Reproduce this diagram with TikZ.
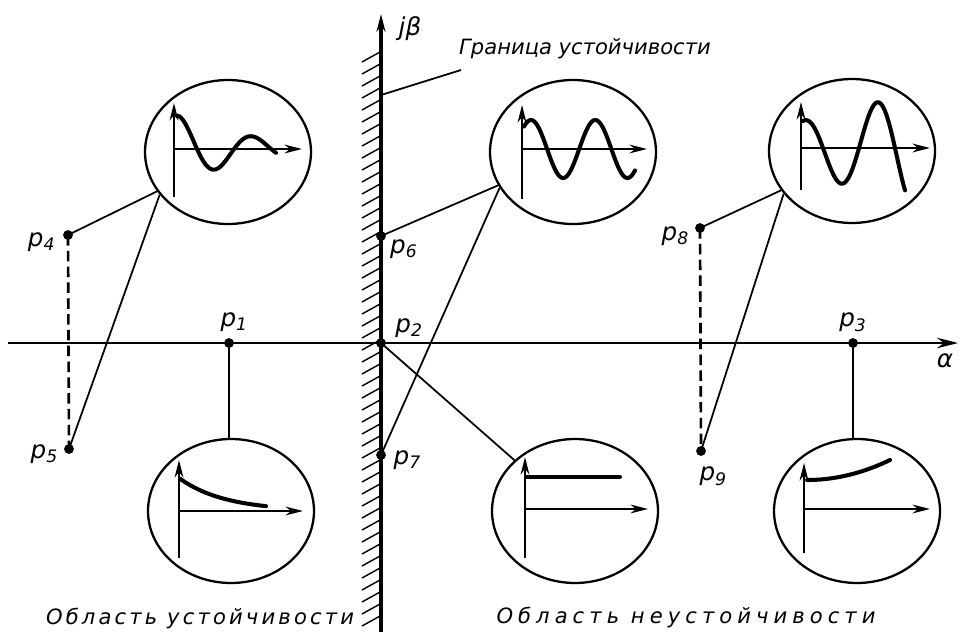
\documentclass[tikz,border=0pt]{standalone}
\usepackage{fontspec}
\setmainfont{DejaVu Sans}
\usetikzlibrary{shapes.geometric,arrows.meta,positioning}

\begin{document}
\begin{tikzpicture}[x=0.02cm, y=-0.02cm,
    font=\itshape\fontsize{12}{14}\selectfont,
    osc/.style={draw, ellipse, line width=1.3pt, minimum width=3.32cm, minimum height=2.88cm, inner sep=0pt},
    link/.style={line width=1pt},
    pair/.style={line width=1.5pt, dash pattern=on 6pt off 3pt},
    curve/.style={line width=2.3pt, line cap=round, samples=120},
    miniax/.style={line width=1.2pt, -{Stealth[length=10pt, width=5pt]}},
    hatch/.style={line width=0.8pt},
    plabel/.style={font=\itshape\fontsize{14}{16}\selectfont, inner sep=1pt}]

    \useasboundingbox (0,0) rectangle (960,632);

    % パラメータの定義
    \pgfmathsetmacro{\xaxis}{343}
    \pgfmathsetmacro{\yaxis}{381}

    % 点の定義
    \coordinate (xl) at (8,\xaxis);
    \coordinate (xr) at (958,\xaxis);
    \coordinate (yb) at (\yaxis,632);
    \coordinate (yt) at (\yaxis,14);

    \coordinate (p1) at (229,\xaxis);
    \coordinate (p2) at (\yaxis,\xaxis);
    \coordinate (p3) at (853,\xaxis);
    \coordinate (p4) at (68,235);
    \coordinate (p5) at (69,449);
    \coordinate (p6) at (\yaxis,236);
    \coordinate (p7) at (\yaxis,455);
    \coordinate (p8) at (700,228);
    \coordinate (p9) at (701,451);

    \coordinate (lead) at (\yaxis,95);
    \coordinate (leadend) at (461,70);

    % 円の定義
    \node[osc] (C4) at (228,152) {};
    \node[osc] (C6) at (573,152) {};
    \node[osc] (C8) at (852,151) {};
    \node[osc] (C1) at (231,511) {};
    \node[osc] (C2) at (575,511) {};
    \node[osc] (C3) at (857,511) {};

    % 斜線の描画
    \foreach \y in {52,64,...,622}
        \draw [hatch] (\yaxis-1,\y) -- ++(-18,10);

    % 軸の描画
    \draw [line width=0.9pt, -{Stealth[length=12pt, width=6pt]}] (xl) -- (xr);
    \draw [line width=2.6pt, -{Stealth[length=10pt, width=5pt]}] (yb) -- (yt);
    \node[plabel] (jb) at (410,29) {jβ};
    \node[plabel] (al) at (945,361) {α};

    % 境界の説明
    \node[anchor=west] (gran) at (453,49) {Граница устойчивости};
    \draw [link] (lead) -- (leadend);

    % 応答の描画
    \begin{scope}[shift={(174,149)}]
        \draw [miniax] (0,48) -- (0,-46);
        \draw [miniax] (0,0) -- (128,0);
        \draw [curve, domain=3:102] plot ({\x}, {-35*exp(-0.013*\x)*cos(4.86*(\x-4.5))});
    \end{scope}
    \begin{scope}[shift={(522,149)}]
        \draw [miniax] (0,50) -- (0,-44);
        \draw [miniax] (0,0) -- (125,0);
        \draw [curve, domain=2:113] plot ({\x}, {-29*cos(5.6*(\x-9))});
    \end{scope}
    \begin{scope}[shift={(801,148)}]
        \draw [miniax] (0,42) -- (0,-46);
        \draw [miniax] (0,0) -- (129,0);
        \draw [curve, domain=2:104] plot ({\x}, {-27*exp(0.0069*\x)*cos(5*(\x-4))});
    \end{scope}
    \begin{scope}[shift={(179,511)}]
        \draw [miniax] (0,47) -- (0,-51);
        \draw [miniax] (0,0) -- (124,0);
        \draw [curve, domain=1:87] plot ({\x}, {-33*exp(-0.022*\x)});
    \end{scope}
    \begin{scope}[shift={(525,509)}]
        \draw [miniax] (0,49) -- (0,-52);
        \draw [miniax] (0,0) -- (123,0);
        \draw [curve] (1,-32) -- (95,-32);
    \end{scope}
    \begin{scope}[shift={(804,509)}]
        \draw [miniax] (0,44) -- (0,-46);
        \draw [miniax] (0,0) -- (126,0);
        \draw [curve, domain=3:86] plot ({\x}, {-29-20*((\x-3)/83)^2});
    \end{scope}

    % 線分の描画
    \draw [pair] (p4) -- (p5);
    \draw [pair] (p8) -- (p9);
    \draw [link] (p4) -- (C4.209);
    \draw [link] (p5) -- (C4.212);
    \draw [link] (p6) -- (C6.204);
    \draw [link] (p7) -- (C6.206);
    \draw [link] (p8) -- (C8.209);
    \draw [link] (p9) -- (C8.212);
    \draw [link] (p1) -- (p1 |- C1.north);
    \draw [link] (p2) -- (C2.140);
    \draw [link] (p3) -- (p3 |- C3.north);

    % 点の描画
    \fill (p1) circle (2.8pt) node[plabel, above=5pt, xshift=3pt] (lp1) {p\textsubscript{1}};
    \fill (p2) circle (2.8pt) node[plabel, above right=2pt and 7pt] (lp2) {p\textsubscript{2}};
    \fill (p3) circle (2.8pt) node[plabel, above=5pt] (lp3) {p\textsubscript{3}};
    \fill (p4) circle (2.8pt) node[plabel, left=6pt, yshift=-4pt] (lp4) {p\textsubscript{4}};
    \fill (p5) circle (2.8pt) node[plabel, left=5pt, yshift=-3pt] (lp5) {p\textsubscript{5}};
    \fill (p6) circle (2.8pt) node[plabel, below right=1pt and 4pt] (lp6) {p\textsubscript{6}};
    \fill (p7) circle (2.8pt) node[plabel, right=6pt, yshift=-3pt] (lp7) {p\textsubscript{7}};
    \fill (p8) circle (2.8pt) node[plabel, below left=-2pt and 5pt] (lp8) {p\textsubscript{8}};
    \fill (p9) circle (2.8pt) node[plabel, below=8pt, xshift=7pt] (lp9) {p\textsubscript{9}};

    % 領域の説明
    \node[font=\itshape\fontsize{12}{14}\selectfont\addfontfeature{LetterSpace=15}] (stab) at (200,618) {Область устойчивости};
    \node[font=\itshape\fontsize{12}{14}\selectfont\addfontfeature{LetterSpace=24}] (unstab) at (686,617) {Область неустойчивости};

\end{tikzpicture}
\end{document}
